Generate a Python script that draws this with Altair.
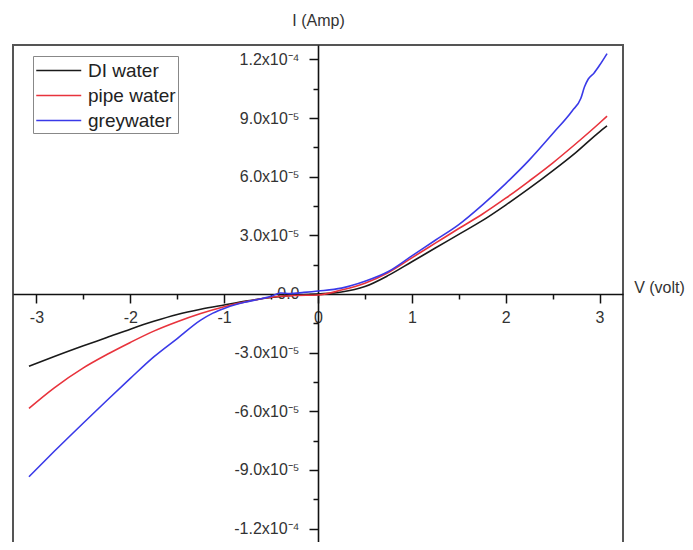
import altair as alt
import pandas as pd

# ---- data (voltage in V, current in micro-ampere) ----
SERIES = ["DI water", "pipe water", "greywater"]
COLORS = ["#1a1a1a", "#e8333c", "#3a3ae8"]

V_DI = [-3.08, -2.81, -2.5, -2.25, -2.0, -1.75, -1.5, -1.25, -1.0, -0.75, -0.5, -0.25, 0.0,
        0.25, 0.5, 0.75, 1.0, 1.25, 1.5, 1.75, 2.0, 2.25, 2.5, 2.75, 3.0, 3.08]
I_DI = [-37, -32, -26.5, -22.3, -18, -14, -10.5, -7.8, -5.6, -3.5, -1.8, -0.6, 0.0,
        1.0, 3.8, 9.5, 16.5, 23.5, 30.5, 37.5, 45.5, 54, 63, 72.5, 83, 86]

V_PIPE = [-3.08, -2.81, -2.5, -2.25, -2.0, -1.75, -1.5, -1.25, -1.0, -0.75, -0.5, -0.25, 0.0,
          0.25, 0.5, 0.75, 1.0, 1.25, 1.5, 1.75, 2.0, 2.25, 2.5, 2.75, 3.0, 3.08]
I_PIPE = [-58.5, -48, -37.8, -31, -24.8, -19, -14.2, -10, -6.5, -3.8, -1.7, -0.8, -0.5,
          2.0, 5.5, 11, 18.5, 26, 33.5, 40.8, 49, 57.8, 67, 77, 87.5, 91]

V_GREY = [-3.08, -2.81, -2.5, -2.25, -2.0, -1.75, -1.5, -1.25, -1.12, -1.0, -0.875, -0.75, -0.5,
          -0.4, -0.3, -0.15, 0.0, 0.25, 0.5, 0.75, 1.0, 1.25, 1.5, 1.75, 2.0, 2.25, 2.5, 2.71,
          2.8, 2.84, 2.88, 2.94, 3.0, 3.08]
I_GREY = [-93.5, -80.5, -66, -54.5, -43.2, -32.2, -22.8, -13.4, -9.8, -7.4, -5.4, -3.9, -1.2,
          0.5, 0.2, 0.8, 1.5, 3.0, 6.5, 11.5, 19.5, 27.5, 35.5, 45.5, 56.5, 68.5, 82, 93.8,
          100, 106, 110, 113, 117, 123]

X_TICKS = [-3, -2.5, -2, -1.5, -1, -0.5, 0, 0.5, 1, 1.5, 2, 2.5, 3]
Y_TICKS = [-120, -105, -90, -75, -60, -45, -30, -15, 0, 15, 30, 45, 60, 75, 90, 105, 120]
Y_LABEL_VALUES = [-120, -90, -60, -30, 0, 30, 60, 90, 120]
Y_LABELS = ["-1.2x10\u207b\u2074", "-9.0x10\u207b\u2075", "-6.0x10\u207b\u2075", "-3.0x10\u207b\u2075",
            "0.0", "3.0x10\u207b\u2075", "6.0x10\u207b\u2075", "9.0x10\u207b\u2075", "1.2x10\u207b\u2074"]

X_DOMAIN = [-3.25, 3.25]
Y_DOMAIN = [-131, 127.4]
W, H = 610, 505

rows = []
for name, vs, cs in [(SERIES[0], V_DI, I_DI), (SERIES[1], V_PIPE, I_PIPE), (SERIES[2], V_GREY, I_GREY)]:
    for i, (v, c) in enumerate(zip(vs, cs)):
        rows.append({"series": name, "V": v, "I": c, "order": i})
df = pd.DataFrame(rows)

# axis positions so both axes cross at the origin
y_axis_offset = -(0 - X_DOMAIN[0]) / (X_DOMAIN[1] - X_DOMAIN[0]) * W
x_axis_offset = -(0 - Y_DOMAIN[0]) / (Y_DOMAIN[1] - Y_DOMAIN[0]) * H

y_expr = " : ".join(f"datum.value == {v} ? '{t}'" for v, t in zip(Y_LABEL_VALUES, Y_LABELS)) + " : ''"

FONT = "Liberation Sans"

x_axis = alt.Axis(
    values=X_TICKS,
    labelExpr="datum.value % 1 == 0 ? '' + datum.value : ''",
    tickSize={"condition": {"test": "datum.value % 1 == 0", "value": 9}, "value": 5},
    offset=x_axis_offset,
    grid=False,
    labelOverlap=False,
    labelFlush=False,
    labelPadding=7,
    labelFontSize=16,
    labelColor="#333333",
    labelFont=FONT,
    domainColor="#111111",
    domainWidth=1.6,
    tickColor="#111111",
    tickWidth=1.5,
    title="V (volt)",
    titleX=646,
    titleY=-6,
    titleAngle=0,
    titleAlign="center",
    titleBaseline="middle",
    titleFontSize=16,
    titleFontWeight="normal",
    titleColor="#333333",
    titleFont=FONT,
)

y_axis = alt.Axis(
    values=Y_TICKS,
    labelExpr=y_expr,
    tickSize={"condition": {"test": "datum.value % 30 == 0", "value": 9}, "value": 5},
    offset=y_axis_offset,
    grid=False,
    labelOverlap=False,
    labelFlush=False,
    labelPadding=10,
    labelFontSize=16,
    labelColor="#333333",
    labelFont=FONT,
    domainColor="#111111",
    domainWidth=1.6,
    tickColor="#111111",
    tickWidth=1.5,
    title="I (Amp)",
    titleX=0,
    titleY=-25,
    titleAngle=0,
    titleAlign="center",
    titleBaseline="middle",
    titleFontSize=16,
    titleFontWeight="normal",
    titleColor="#333333",
    titleFont=FONT,
)

chart = alt.Chart(df).mark_line(strokeWidth=1.6, interpolate="monotone").encode(
    x=alt.X("V:Q", scale=alt.Scale(domain=X_DOMAIN, nice=False, zero=False), axis=x_axis),
    y=alt.Y("I:Q", scale=alt.Scale(domain=Y_DOMAIN, nice=False, zero=False), axis=y_axis),
    color=alt.Color(
        "series:N",
        scale=alt.Scale(domain=SERIES, range=COLORS),
        legend=alt.Legend(
            title=None,
            orient="none",
            legendX=20,
            legendY=11,
            symbolType="M-1,0H3",
            symbolSize=506,
            symbolStrokeWidth=1.6,
            labelFontSize=19,
            labelFont=FONT,
            labelColor="#222222",
            strokeColor="#888888",
            padding=2,
            rowPadding=2,
            labelOffset=28,
        ),
    ),
    order="order:Q",
).properties(
    width=W,
    height=H,
    autosize=alt.AutoSizeParams(type="none"),
    padding={"left": 5, "top": 37, "right": 62, "bottom": -8},
    background="white",
).configure_view(
    stroke="#555555",
    strokeWidth=2,
)

chart.save("out.html", embed_options={"renderer": "svg", "actions": False})
